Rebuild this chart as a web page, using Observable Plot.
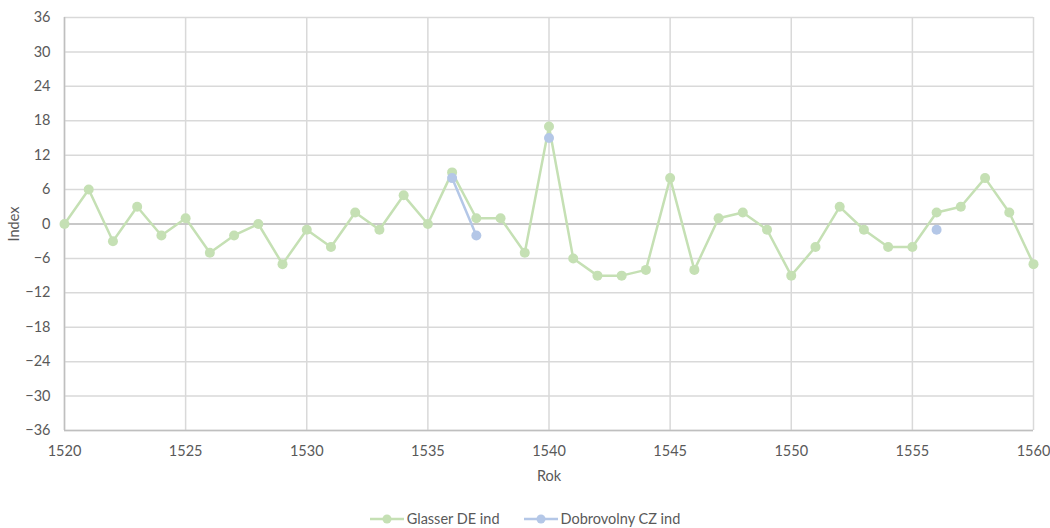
<!DOCTYPE html>
<html>
<head>
<meta charset="utf-8">
<script src="https://cdn.jsdelivr.net/npm/d3@7"></script>
<script src="https://cdn.jsdelivr.net/npm/@observablehq/plot@0.6"></script>
<style>
  html, body { margin: 0; padding: 0; background: #fff; }
  #chart { width: 1050px; }
  .legend { display: flex; justify-content: center; align-items: center; gap: 24px; font-family: Lato, "Open Sans", sans-serif; font-size: 14.5px; color: #595959; margin-top: 12px; margin-left: 0px; }
  .legend span { display: inline-flex; align-items: center; gap: 3px; }
</style>
</head>
<body>
<div id="chart"></div>
<script>
const years = d3.range(1520, 1561);
const glasser = [0, 6, -3, 3, -2, 1, -5, -2, 0, -7, -1, -4, 2, -1, 5, 0, 9, 1, 1, -5, 17, -6, -9, -9, -8, 8, -8, 1, 2, -1, -9, -4, 3, -1, -4, -4, 2, 3, 8, 2, -7];
const dobroYears = [1536, 1537, 1540, 1556];
const dobroValues = [8, -2, 15, -1];
const xTicks = [1520, 1525, 1530, 1535, 1540, 1545, 1550, 1555, 1560];
const yTicks = [-36, -30, -24, -18, -12, -6, 0, 6, 12, 18, 24, 30, 36];
const seriesNames = ["Glasser DE ind", "Dobrovolny CZ ind"];
const axisTitles = ["Rok", "Index"];
const colors = ["#c5e0b4", "#b4c7e7"];

const gData = years.map((y, i) => ({year: y, value: glasser[i]}));
const dMap = new Map(dobroYears.map((y, i) => [y, dobroValues[i]]));
const dData = years.map(y => ({year: y, value: dMap.has(y) ? dMap.get(y) : null}));
const dPoints = dobroYears.map((y, i) => ({year: y, value: dobroValues[i]}));

const chart = Plot.plot({
  width: 1050,
  height: 498,
  marginLeft: 64,
  marginRight: 17,
  marginTop: 17,
  marginBottom: 68,
  style: {fontFamily: "Lato, 'Open Sans', sans-serif", fontSize: "14.5px", color: "#595959", background: "#fff"},
  x: {domain: [1520, 1560]},
  y: {domain: [-36, 36]},
  marks: [
    Plot.gridX(xTicks, {stroke: "#d9d9d9", strokeOpacity: 1, strokeWidth: 1.5}),
    Plot.gridY(yTicks, {stroke: "#d9d9d9", strokeOpacity: 1, strokeWidth: 1.5}),
    Plot.ruleY([0], {stroke: "#bfbfbf", strokeWidth: 1.5}),
    Plot.ruleX([1520], {stroke: "#bfbfbf", strokeWidth: 1.5}),
    Plot.ruleY([-36], {stroke: "#bfbfbf", strokeWidth: 1.5}),
    Plot.line(gData, {x: "year", y: "value", stroke: colors[0], strokeWidth: 2.5}),
    Plot.dot(gData, {x: "year", y: "value", r: 5, fill: colors[0]}),
    Plot.line(dData, {x: "year", y: "value", stroke: colors[1], strokeWidth: 2.5}),
    Plot.dot(dPoints, {x: "year", y: "value", r: 5, fill: colors[1]}),
    Plot.axisX(xTicks, {tickSize: 0, tickPadding: 15, tickFormat: d => String(d), label: null, fill: "#595959"}),
    Plot.axisY(yTicks, {tickSize: 0, tickPadding: 14, label: null, fill: "#595959"}),
    Plot.text([axisTitles[0]], {frameAnchor: "bottom", dy: 46, lineAnchor: "middle", textAnchor: "middle", fontSize: 14.5, fill: "#595959"}),
    Plot.text([axisTitles[1]], {frameAnchor: "left", dx: -50, rotate: -90, lineAnchor: "middle", textAnchor: "middle", fontSize: 14.5, fill: "#595959"})
  ]
});
document.getElementById("chart").appendChild(chart);

const legend = document.createElement("div");
legend.className = "legend";
seriesNames.forEach((name, i) => {
  const s = document.createElement("span");
  s.innerHTML = `<svg width="34" height="12"><line x1="0" y1="6" x2="34" y2="6" stroke="${colors[i]}" stroke-width="2.5"/><circle cx="17" cy="6" r="4.5" fill="${colors[i]}"/></svg>${name}`;
  legend.appendChild(s);
});
document.body.appendChild(legend);
</script>
</body>
</html>
